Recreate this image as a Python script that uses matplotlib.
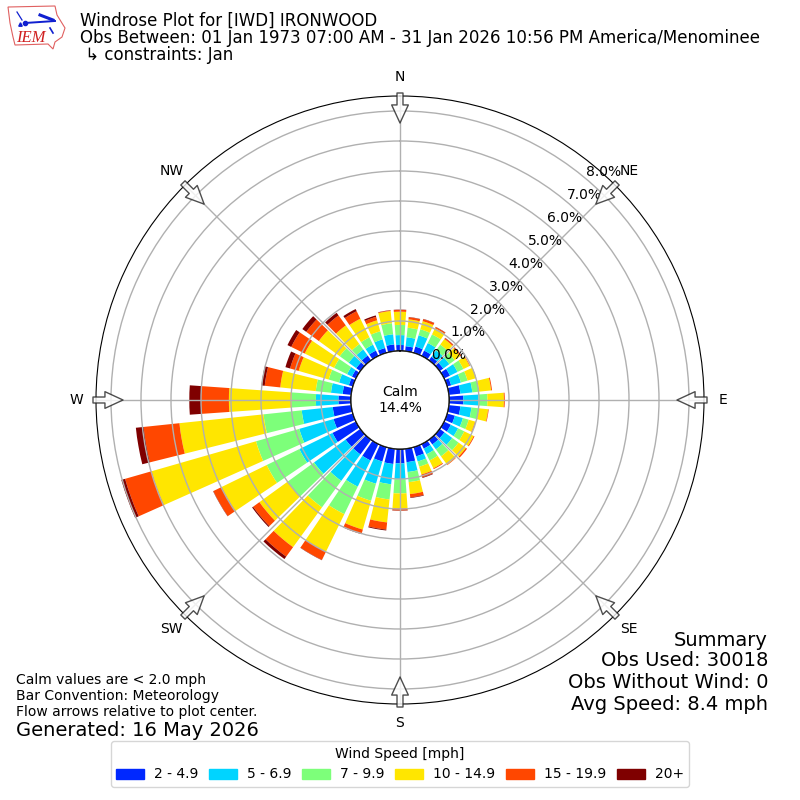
import numpy as np
import matplotlib
matplotlib.use("Agg")
import matplotlib.pyplot as plt
from matplotlib.patches import Circle, Patch, Polygon

directions = list(range(0, 360, 10))
# cumulative percent of observations at or below each speed class, per direction
upto_4_9 = [.20,.17,.22,.20,.15,.15,.22,.14,.39,.48,.39,.27,.25,.20,.20,.17,.32,.45,
            .48,.51,.50,.61,.61,.61,.87,.67,.62,.42,.29,.14,.15,.17,.20,.20,.17,.23]
upto_6_9 = [.53,.47,.61,.48,.41,.40,.50,.48,.79,.98,.76,.55,.52,.52,.40,.38,.50,.78,
            1.01,1.19,1.27,1.58,1.70,1.91,2.10,1.86,1.66,1.17,.68,.48,.33,.48,.45,.42,.47,.57]
upto_9_9 = [.87,.79,.82,.80,.65,.62,.72,.71,1.02,1.28,1.01,.75,.75,.78,.69,.61,.68,1.12,
            1.48,1.70,1.86,2.60,2.79,3.00,3.31,3.36,2.94,1.98,1.19,.84,.81,.85,.67,.69,.75,.94]
upto_14_9 = [1.31,1.07,1.10,1.03,.88,.85,.95,1.00,1.42,1.83,1.32,.97,1.10,1.08,1.03,.90,.95,1.52,
             1.98,2.47,2.86,3.99,4.43,4.16,4.98,6.98,5.76,4.07,2.38,1.88,1.90,1.71,1.44,1.38,1.13,1.35]
upto_19_9 = [1.37,1.14,1.17,1.07,.92,.89,.97,1.01,1.45,1.86,1.34,.99,1.13,1.13,1.05,.93,1.05,1.63,
             2.05,2.71,3.01,4.30,4.82,4.42,5.29,7.90,6.96,5.00,2.90,2.18,2.40,2.23,1.85,1.66,1.25,1.37]
upto_max = [1.38,1.15,1.18,1.08,.93,.90,.97,1.01,1.45,1.86,1.34,.99,1.13,1.13,1.05,.93,1.07,1.65,
            2.06,2.74,3.02,4.31,4.92,4.46,5.30,8.03,7.22,5.39,3.01,2.34,2.54,2.39,1.96,1.74,1.30,1.38]
speed_labels = ["2 - 4.9", "5 - 6.9", "7 - 9.9", "10 - 14.9", "15 - 19.9", "20+"]
speed_colors = ["#0028ff", "#00d4ff", "#7dff7a", "#ffe600", "#ff4700", "#7f0000"]
ring_values = list(range(0, 9))
compass = ["N", "NE", "E", "SE", "S", "SW", "W", "NW"]
title_lines = ["Windrose Plot for [IWD] IRONWOOD",
               "Obs Between: 01 Jan 1973 07:00 AM - 31 Jan 2026 10:56 PM America/Menominee",
               " \u21b3 constraints: Jan"]
note_lines = ["Calm values are < 2.0 mph", "Bar Convention: Meteorology",
              "Flow arrows relative to plot center."]
summary_lines = ["Summary", "Obs Used: 30018", "Obs Without Wind: 0", "Avg Speed: 8.4 mph"]

fig = plt.figure(figsize=(8, 8), dpi=100)
ax = fig.add_axes([96/800, 96/800, 608/800, 608/800], projection="polar")
ax.set_theta_zero_location("N")
ax.set_theta_direction(-1)
ax.set_rorigin(-49/30)
ax.set_ylim(0, 8.5)

theta = np.deg2rad(directions)
cum = [upto_4_9, upto_6_9, upto_9_9, upto_14_9, upto_19_9, upto_max]
prev = np.zeros(len(directions))
for vals, col in zip(cum, speed_colors):
    vals = np.array(vals)
    ax.bar(theta, vals - prev, width=np.deg2rad(8), bottom=prev, color=col, linewidth=0)
    prev = vals

ax.set_xticks(np.deg2rad(np.arange(0, 360, 45)))
ax.set_xticklabels(compass, fontsize=10)
ax.set_rgrids(ring_values, [f"{v:.1f}%" for v in ring_values], angle=40, fontsize=10)
ax.grid(True, color="#b0b0b0", linewidth=1)

for t in np.arange(0, 360, 45):
    a = np.deg2rad(t)
    ax.annotate("", xy=(a, 7.6), xytext=(a, 8.6), annotation_clip=False,
                arrowprops=dict(facecolor="white", edgecolor="#222222", alpha=0.8,
                                width=4.3, headwidth=12, headlength=13, shrink=0,
                                linewidth=1))

ax.add_patch(Circle((0.5, 0.5), 49/608, transform=ax.transAxes, facecolor="white",
                    edgecolor="black", linewidth=1, zorder=3))
ax.text(0.5, 0.5, "Calm\n14.4%", transform=ax.transAxes, ha="center", va="center",
        fontsize=10, zorder=4)

def px(x, y):
    return x/800, 1 - y/800

for line, y in zip(title_lines, [21, 38, 55]):
    fig.text(*px(80, y), line, fontsize=12, va="center", ha="left")
for line, y in zip(note_lines, [680, 696, 712]):
    fig.text(*px(16, y), line, fontsize=10, va="center", ha="left")
fig.text(*px(16, 730), "Generated: 16 May 2026", fontsize=14, va="center", ha="left")
for line, y in zip(summary_lines, [640, 661, 682, 705]):
    fig.text(*px(768, y), line, fontsize=14, va="center", ha="right")

handles = [Patch(color=c, label=l) for c, l in zip(speed_colors, speed_labels)]
fig.legend(handles=handles, title="Wind Speed [mph]", ncol=6, loc="lower center",
           bbox_to_anchor=px(400, 794), fontsize=10, title_fontsize=10,
           columnspacing=0.8, handletextpad=0.7)

# logo
lg = fig.add_axes([0, 1 - 52/800, 68/800, 52/800])
lg.set_xlim(0, 68); lg.set_ylim(52, 0); lg.axis("off")
outline = [(8,7),(55,6),(57,15),(65,28),(62,37),(55,42),(53,49),(48,44),(15,45),(13,37),(10,23)]
lg.add_patch(Polygon(outline, closed=True, fill=False, edgecolor="#e06060", linewidth=0.8))
lg.plot([25,55],[23,21], color="#1020d0", linewidth=1.4)
lg.plot([25],[23], "o", color="#1020d0", markersize=3)
lg.plot([20],[24], "^", color="#1020d0", markersize=2.5)
lg.plot([40,53],[15,20], color="#1020d0", linewidth=2.2)
lg.plot([17,22],[12,20], color="#1020d0", linewidth=0.9)
lg.plot([50,53],[28,33], color="#1020d0", linewidth=1.2)
lg.text(16.5, 38.5, "IEM", color="#d02020", fontsize=12, style="italic", family="Liberation Serif",
        va="center", ha="left")

fig.savefig("out.png", dpi=100)
